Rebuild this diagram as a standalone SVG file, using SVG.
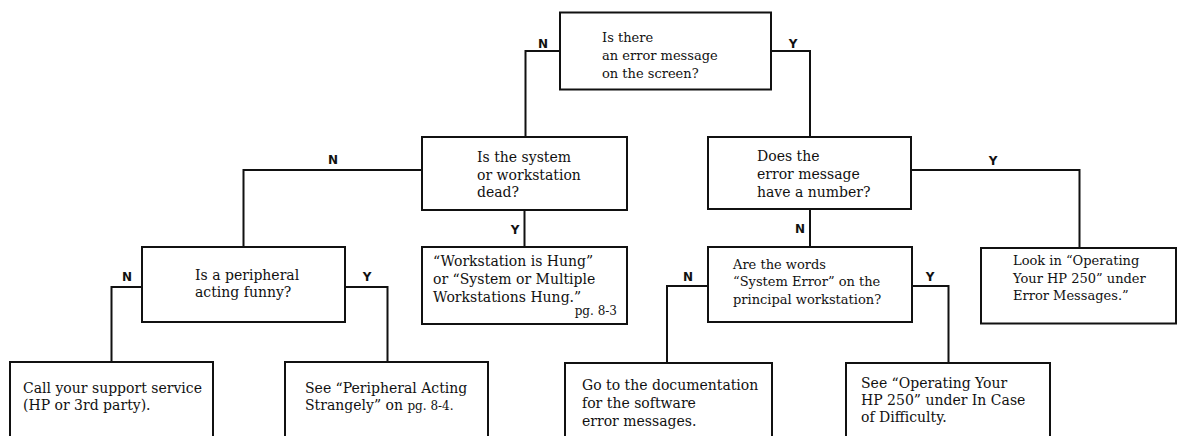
<svg xmlns="http://www.w3.org/2000/svg" width="1177" height="436" viewBox="0 0 1177 436">
<style>
.box{fill:#fff;stroke:#111;stroke-width:2}
.t{font-family:"DejaVu Serif","Liberation Serif",serif;font-size:14px;fill:#111}
.s{font-size:13px}
.pg{font-size:12px}
.lbl{font-family:"DejaVu Sans","Liberation Sans",sans-serif;font-size:12px;font-weight:bold;fill:#111;text-anchor:middle}
.c{fill:none;stroke:#111;stroke-width:2}
</style>
<rect width="1177" height="436" fill="#fff"/>
<g id="connectors">
<polyline class="c" points="560,51 525.5,51 525.5,137"/>
<polyline class="c" points="771,51 810,51 810,137"/>
<polyline class="c" points="422,170 243.5,170 243.5,247"/>
<polyline class="c" points="524.5,210 524.5,247"/>
<polyline class="c" points="911,170 1079.5,170 1079.5,248"/>
<polyline class="c" points="810,209 810,247"/>
<polyline class="c" points="142,287 111.5,287 111.5,362"/>
<polyline class="c" points="345,287 387.5,287 387.5,362"/>
<polyline class="c" points="708,286 667,286 667,363"/>
<polyline class="c" points="912,286 948.5,286 948.5,363"/>
<text class="lbl" x="543" y="48">N</text>
<text class="lbl" x="793" y="48">Y</text>
<text class="lbl" x="333" y="164">N</text>
<text class="lbl" x="515" y="234">Y</text>
<text class="lbl" x="993" y="165">Y</text>
<text class="lbl" x="800" y="233">N</text>
<text class="lbl" x="127" y="281">N</text>
<text class="lbl" x="367" y="281">Y</text>
<text class="lbl" x="688" y="281">N</text>
<text class="lbl" x="930" y="281">Y</text>
</g>
<g id="q-error-message">
<rect class="box" x="560" y="12.5" width="211" height="77"/>
<text class="t s" x="602" y="41.5">Is there</text>
<text class="t s" x="602" y="59.5">an error message</text>
<text class="t s" x="602" y="77.5">on the screen?</text>
</g>
<g id="q-system-dead">
<rect class="box" x="422" y="137" width="205" height="73"/>
<text class="t" x="477" y="162">Is the system</text>
<text class="t" x="477" y="179.5">or workstation</text>
<text class="t" x="477" y="197">dead?</text>
</g>
<g id="q-has-number">
<rect class="box" x="708" y="137" width="203" height="72"/>
<text class="t" x="757" y="161">Does the</text>
<text class="t" x="757" y="179">error message</text>
<text class="t" x="757" y="196.5">have a number?</text>
</g>
<g id="q-peripheral">
<rect class="box" x="142" y="247" width="203" height="75"/>
<text class="t" x="195" y="279.5">Is a peripheral</text>
<text class="t" x="195" y="297">acting funny?</text>
</g>
<g id="a-hung">
<rect class="box" x="422" y="247" width="205" height="77"/>
<text class="t" x="433" y="266">“Workstation is Hung”</text>
<text class="t" x="433" y="284">or “System or Multiple</text>
<text class="t" x="433" y="301.5">Workstations Hung.”</text>
<text class="t pg" x="617" y="315" text-anchor="end">pg. 8-3</text>
</g>
<g id="q-system-error">
<rect class="box" x="708" y="247" width="204" height="75"/>
<text class="t s" x="733" y="268.5">Are the words</text>
<text class="t s" x="733" y="286">“System Error” on the</text>
<text class="t s" x="733" y="303.5">principal workstation?</text>
</g>
<g id="a-look-in">
<rect class="box" x="981" y="248" width="195" height="75.5"/>
<text class="t s" x="1013" y="265">Look in “Operating</text>
<text class="t s" x="1013" y="282.5">Your HP 250” under</text>
<text class="t s" x="1013" y="299.5">Error Messages.”</text>
</g>
<g id="a-call-support">
<rect class="box" x="10" y="362" width="203" height="100"/>
<text class="t" x="23" y="392.5">Call your support service</text>
<text class="t" x="23" y="410">(HP or 3rd party).</text>
</g>
<g id="a-peripheral-strangely">
<rect class="box" x="285" y="362" width="203" height="100"/>
<text class="t" x="305" y="392.5">See “Peripheral Acting</text>
<text class="t" x="305" y="410">Strangely” on <tspan class="pg">pg. 8-4.</tspan></text>
</g>
<g id="a-documentation">
<rect class="box" x="565" y="363" width="207" height="100"/>
<text class="t" x="582" y="390">Go to the documentation</text>
<text class="t" x="582" y="408">for the software</text>
<text class="t" x="582" y="425.5">error messages.</text>
</g>
<g id="a-difficulty">
<rect class="box" x="846" y="363" width="204" height="100"/>
<text class="t" x="861" y="387.5">See “Operating Your</text>
<text class="t" x="861" y="405">HP 250” under In Case</text>
<text class="t" x="861" y="422">of Difficulty.</text>
</g>
</svg>
